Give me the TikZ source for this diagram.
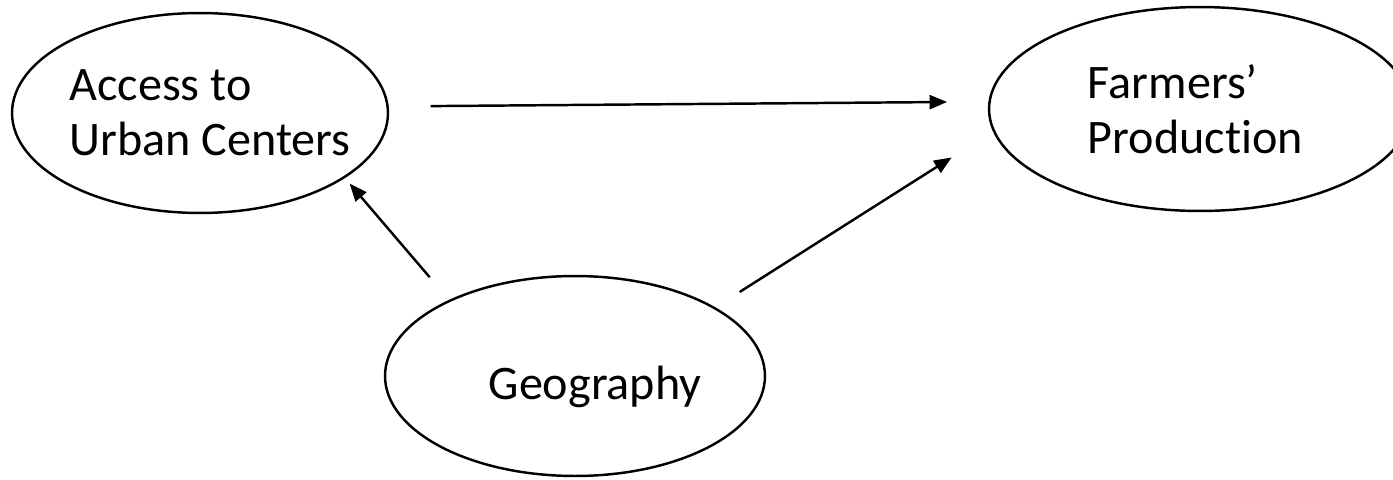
\documentclass[tikz,border=0pt]{standalone}
\usepackage{fontspec}
\setmainfont[Ligatures={NoCommon}]{Carlito}
\usetikzlibrary{arrows.meta,shapes.geometric}

\begin{document}
\begin{tikzpicture}[x=0.02cm,y=-0.02cm,>={Triangle[length=10pt,width=8pt]},
    ell/.style={draw,ellipse,line width=1.4pt,inner sep=0pt,outer sep=0pt},
    lbl/.style={align=left,inner sep=0pt,font=\fontsize{27.4}{31.3}\selectfont},
    arr/.style={->,line width=1.4pt}]
  \useasboundingbox (0,0) rectangle (1393,480);
  % the three factors
  \node[ell,minimum width=7.52cm,minimum height=4cm,
    label={[lbl,name=acctxt,xshift=0.2cm]center:{Access to\\Urban Centers}}] (acc) at (200,113) {};
  \node[ell,minimum width=8.44cm,minimum height=4.08cm,
    label={[lbl,name=farmtxt,xshift=-0.09cm]center:{Farmers’\\Production}}] (farm) at (1200,109) {};
  \node[ell,minimum width=7.6cm,minimum height=4cm,
    label={[lbl,name=geotxt,xshift=0.4cm,yshift=-0.22cm]center:{Geography}}] (geo) at (575,376) {};
  % links
  \draw[arr,shorten <=0.86cm,shorten >=0.85cm] (acc.2.75) -- (farm.178.6);
  \draw[arr,shorten <=0.62cm,shorten >=0.17cm] (geo.149.3) -- (acc.-24.7);
  \draw[arr,shorten <=0.6cm,shorten >=1cm] (geo.26.1) -- (farm.-174.2);
\end{tikzpicture}
\end{document}
